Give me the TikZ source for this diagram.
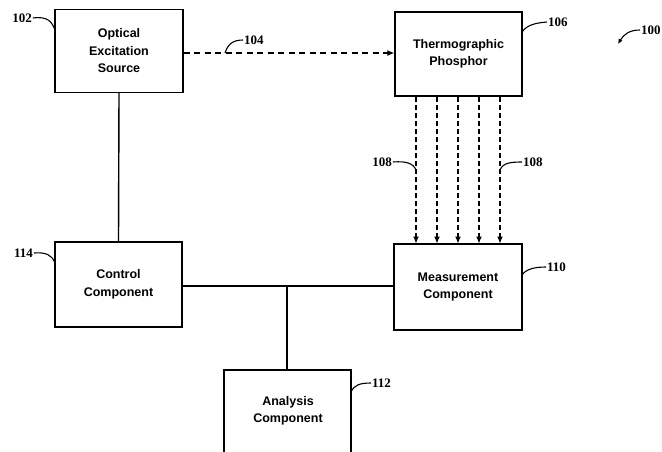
\documentclass[tikz,border=0pt]{standalone}
\usepackage{fontspec}
\setmainfont{Liberation Sans}
\newfontfamily\reffont{Liberation Serif}
\usetikzlibrary{arrows.meta}
\begin{document}
\begin{tikzpicture}[x=1pt,y=-1pt,
  blockfont/.style={font=\fontsize{12.5}{17.5}\selectfont\bfseries},
  blockbox/.style={draw,line width=1.4pt,align=center,blockfont,inner sep=0pt},
  wire/.style={line width=1.4pt},
  beam/.style={line width=1.2pt,-{Latex[length=7pt,width=6pt]}},
  leader/.style={line width=1.1pt},
  refnum/.style={font=\fontsize{13}{15}\selectfont\reffont\bfseries,inner sep=1pt}]
\useasboundingbox (0,0) rectangle (662,451);
\clip (0,0) rectangle (662,451);

% blocks
\node[blockbox,minimum width=128pt,minimum height=83pt] (src) at (119,51) {Optical\\Excitation\\Source};
\node[blockbox,minimum width=127pt,minimum height=84pt] (phos) at (458.5,54) {Thermographic\\Phosphor};
\node[blockbox,minimum width=128pt,minimum height=86pt] (meas) at (458,287) {Measurement\\Component};
\node[blockbox,minimum width=127pt,minimum height=85pt] (ctrl) at (118.5,284.5) {Control\\Component};
\node[blockbox,minimum width=127pt,minimum height=100pt] (anal) at (287.5,420) {};
\node[blockfont,align=center] (analtxt) at (288,411) {Analysis\\Component};

% excitation light
\draw[beam,dash pattern=on 6pt off 4.5pt] (src.east |- 0,53) -- (phos.west |- 0,53);

% emitted light
\foreach \xx in {416,437,458,479,500}
  \draw[beam,dash pattern=on 5pt off 3pt] (\xx,97) -- (\xx,243.5);

% signal wiring
\coordinate (tee) at (287,286);
\draw[wire] (src.south) -- (ctrl.north);
\draw[wire] (ctrl.east |- 0,286) -- (meas.west |- 0,286);
\draw[wire] (tee) -- (anal.north -| tee);

% reference numerals
\node[refnum,anchor=east] (n102) at (33,18) {102};
\draw[leader] (n102.east) .. controls (48,16) and (52,22) .. (55,30);

\node[refnum,anchor=west] (n104) at (243,40) {104};
\draw[leader] (n104.west) .. controls (233,40) and (228,44) .. (225,53);

\node[refnum,anchor=west] (n106) at (547,22) {106};
\draw[leader] (n106.west) .. controls (535,23) and (527,25) .. (522,32);

\node[refnum,anchor=west] (n100) at (640,30) {100};
\coordinate (a100) at (618,44);
\draw[leader,-{Latex[length=5pt,width=4.5pt]}] (n100.west) .. controls (630,30) and (624,34) .. (a100);

\node[refnum,anchor=east] (n108a) at (393,162) {108};
\draw[leader] (n108a.east) .. controls (406,161) and (413,163) .. (416,170);

\node[refnum,anchor=west] (n108b) at (522,162) {108};
\draw[leader] (n108b.west) .. controls (510,162) and (503,163) .. (500,170);

\node[refnum,anchor=west] (n110) at (546,267) {110};
\draw[leader] (n110.west) .. controls (535,267) and (526,269) .. (522,275);

\node[refnum,anchor=east] (n114) at (34,253) {114};
\draw[leader] (n114.east) .. controls (46,252) and (52,255) .. (55,263);

\node[refnum,anchor=west] (n112) at (371,383) {112};
\draw[leader] (n112.west) .. controls (360,383) and (354,385) .. (351,392);
\end{tikzpicture}
\end{document}
